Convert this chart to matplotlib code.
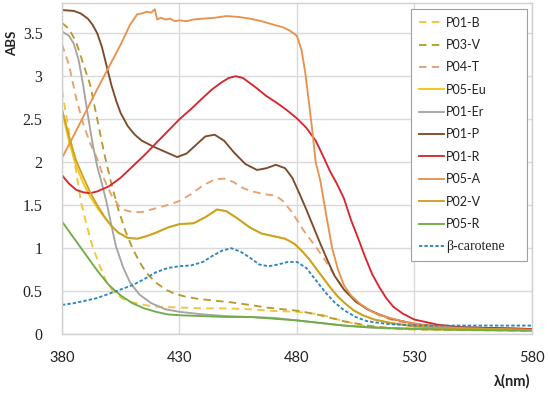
import numpy as np
import matplotlib
matplotlib.use('Agg')
import matplotlib.pyplot as plt
from matplotlib.ticker import FuncFormatter

# absorbance spectra
p01bX = [380, 383, 386, 388, 390, 393, 396, 399, 402, 406, 410, 415, 420, 430, 440, 450, 460, 470, 480, 490, 500, 510, 520, 535, 580]
p01bY = [2.84, 2.35, 1.90, 1.55, 1.32, 1.02, 0.80, 0.60, 0.49, 0.41, 0.37, 0.34, 0.32, 0.31, 0.30, 0.30, 0.29, 0.27, 0.26, 0.23, 0.15, 0.09, 0.06, 0.05, 0.04]

p03vX = [380, 383, 386, 389, 392, 395, 398, 401, 404, 407, 410, 413, 416, 420, 424, 428, 432, 438, 445, 452, 460, 467, 474, 481, 490, 500, 510, 520, 530, 545, 580]
p03vY = [3.62, 3.55, 3.40, 3.15, 2.90, 2.50, 2.10, 1.75, 1.45, 1.20, 1.00, 0.84, 0.71, 0.60, 0.52, 0.47, 0.44, 0.41, 0.39, 0.37, 0.34, 0.31, 0.29, 0.27, 0.22, 0.15, 0.10, 0.07, 0.06, 0.05, 0.04]

p04tX = [380, 383, 386, 389, 392, 395, 398, 401, 404, 407, 410, 414, 418, 422, 426, 430, 435, 440, 445, 449, 453, 457, 461, 466, 471, 474, 477, 480, 483, 486, 489, 492, 495, 498, 501, 505, 510, 515, 520, 530, 540, 555, 580]
p04tY = [3.37, 3.13, 2.75, 2.45, 2.22, 2.04, 1.80, 1.62, 1.50, 1.44, 1.42, 1.42, 1.45, 1.48, 1.51, 1.55, 1.63, 1.73, 1.80, 1.81, 1.77, 1.70, 1.66, 1.63, 1.61, 1.55, 1.45, 1.33, 1.20, 1.09, 0.98, 0.86, 0.73, 0.60, 0.49, 0.38, 0.29, 0.22, 0.17, 0.11, 0.08, 0.06, 0.05]

p05euX = [380, 383, 386, 389, 392, 395, 398, 401, 404, 408, 412, 416, 420, 425, 430, 436, 441, 446, 450, 455, 460, 465, 470, 475, 479, 482, 485, 488, 491, 494, 497, 500, 504, 508, 513, 520, 530, 545, 580]
p05euY = [2.60, 2.24, 1.96, 1.76, 1.60, 1.47, 1.36, 1.26, 1.18, 1.12, 1.11, 1.14, 1.18, 1.24, 1.28, 1.29, 1.36, 1.45, 1.43, 1.34, 1.24, 1.17, 1.14, 1.11, 1.05, 0.97, 0.88, 0.77, 0.66, 0.55, 0.45, 0.37, 0.28, 0.22, 0.17, 0.13, 0.09, 0.07, 0.05]

p01erX = [380, 383, 385, 387, 389, 391, 393, 395, 397, 399, 401, 403, 406, 409, 413, 418, 424, 430, 440, 450, 460, 470, 480, 490, 500, 510, 520, 540, 580]
p01erY = [3.52, 3.47, 3.38, 3.20, 2.90, 2.55, 2.22, 1.95, 1.75, 1.53, 1.27, 1.02, 0.78, 0.60, 0.46, 0.36, 0.29, 0.26, 0.23, 0.21, 0.20, 0.19, 0.16, 0.13, 0.10, 0.08, 0.07, 0.06, 0.05]

p01pX = [380, 385, 388, 391, 393, 395, 397, 399, 401, 403, 405, 408, 411, 414, 419, 424, 429, 433, 437, 441, 445, 449, 453, 458, 463, 467, 471, 475, 478, 481, 484, 487, 490, 493, 496, 500, 505, 510, 515, 520, 530, 540, 550, 565, 580]
p01pY = [3.77, 3.76, 3.73, 3.67, 3.60, 3.50, 3.34, 3.12, 2.90, 2.72, 2.57, 2.42, 2.32, 2.25, 2.18, 2.12, 2.06, 2.10, 2.20, 2.30, 2.32, 2.25, 2.12, 1.98, 1.91, 1.93, 1.97, 1.93, 1.82, 1.64, 1.45, 1.25, 1.05, 0.86, 0.68, 0.52, 0.38, 0.29, 0.23, 0.18, 0.12, 0.09, 0.08, 0.07, 0.06]

p01rX = [380, 383, 386, 389, 392, 395, 400, 405, 410, 415, 420, 425, 430, 435, 440, 444, 448, 451, 454, 457, 462, 467, 472, 476, 480, 484, 488, 491, 494, 497, 500, 503, 506, 509, 512, 515, 518, 521, 525, 530, 540, 550, 565, 580]
p01rY = [1.85, 1.75, 1.68, 1.65, 1.64, 1.66, 1.72, 1.82, 1.95, 2.08, 2.22, 2.36, 2.50, 2.62, 2.75, 2.85, 2.93, 2.98, 3.00, 2.98, 2.88, 2.77, 2.68, 2.60, 2.51, 2.40, 2.25, 2.08, 1.90, 1.75, 1.58, 1.33, 1.12, 0.90, 0.70, 0.55, 0.42, 0.32, 0.24, 0.17, 0.11, 0.08, 0.07, 0.06]

p05aX = [380, 385, 390, 395, 400, 405, 409, 412, 414, 416, 418, 419.5, 420.5, 422, 424, 426, 428, 430, 433, 436, 440, 445, 450, 455, 460, 465, 470, 474, 477, 480, 482, 483.5, 485, 486.5, 488, 490, 492.5, 495, 497.5, 500, 503, 507, 512, 518, 525, 535, 550, 580]
p05aY = [2.05, 2.31, 2.58, 2.85, 3.11, 3.37, 3.60, 3.72, 3.73, 3.75, 3.74, 3.78, 3.66, 3.68, 3.66, 3.67, 3.64, 3.65, 3.64, 3.66, 3.67, 3.68, 3.70, 3.69, 3.67, 3.64, 3.60, 3.57, 3.53, 3.47, 3.30, 3.05, 2.72, 2.38, 2.00, 1.78, 1.38, 1.00, 0.75, 0.57, 0.45, 0.35, 0.26, 0.20, 0.15, 0.10, 0.07, 0.05]

p02vX = p05euX
p02vY = [2.62, 2.30, 2.02, 1.83, 1.65, 1.50, 1.37, 1.26, 1.18, 1.12, 1.11, 1.14, 1.18, 1.24, 1.28, 1.29, 1.36, 1.45, 1.43, 1.34, 1.24, 1.17, 1.14, 1.11, 1.05, 0.97, 0.88, 0.77, 0.66, 0.55, 0.45, 0.37, 0.28, 0.22, 0.17, 0.13, 0.09, 0.07, 0.05]

p05rX = [380, 385, 390, 395, 400, 405, 410, 415, 420, 425, 430, 440, 450, 460, 470, 480, 490, 500, 510, 520, 530, 550, 580]
p05rY = [1.31, 1.12, 0.93, 0.74, 0.57, 0.45, 0.36, 0.30, 0.26, 0.23, 0.22, 0.21, 0.20, 0.20, 0.18, 0.16, 0.13, 0.10, 0.08, 0.07, 0.06, 0.05, 0.04]

betaX = [380, 385, 390, 395, 400, 405, 410, 415, 420, 425, 430, 435, 440, 444, 448, 452, 456, 460, 464, 468, 472, 476, 480, 484, 488, 492, 496, 500, 505, 510, 518, 530, 550, 580]
betaY = [0.34, 0.36, 0.39, 0.42, 0.47, 0.52, 0.57, 0.64, 0.72, 0.77, 0.79, 0.80, 0.84, 0.91, 0.97, 1.00, 0.96, 0.89, 0.81, 0.79, 0.81, 0.84, 0.84, 0.77, 0.63, 0.49, 0.37, 0.28, 0.20, 0.15, 0.12, 0.10, 0.10, 0.10]

xTicks = [380, 430, 480, 530, 580]
yTicks = [0, 0.5, 1, 1.5, 2, 2.5, 3, 3.5]


def drawSpectra():
    fig = plt.figure(figsize=(5.5, 3.95), dpi=100)
    ax = fig.add_axes([0.1127, 0.154, 0.8543, 0.838])

    dash = (0, (4, 2.8))
    # (label, x, y, color, linestyle)
    series = [
        ('P01-B', p01bX, p01bY, '#F2C53D', dash),
        ('P03-V', p03vX, p03vY, '#B89A2E', dash),
        ('P04-T', p04tX, p04tY, '#E8A06E', dash),
        ('P05-Eu', p05euX, p05euY, '#F5C518', '-'),
        ('P01-Er', p01erX, p01erY, '#A5A5A5', '-'),
        ('P01-P', p01pX, p01pY, '#7E4B29', '-'),
        ('P01-R', p01rX, p01rY, '#D9262E', '-'),
        ('P05-A', p05aX, p05aY, '#E8924F', '-'),
        ('P02-V', p02vX, p02vY, '#C9A227', '-'),
        ('P05-R', p05rX, p05rY, '#70AD47', '-'),
        ('\u03b2-carotene', betaX, betaY, '#2E86C1', (0, (1.8, 1.1))),
    ]
    for (label, xs, ys, color, ls) in series:
        ax.plot(xs, ys, color=color, linestyle=ls, linewidth=1.35, label=label)

    ax.set_xlim(380, 580)
    ax.set_ylim(0, 3.85)
    ax.set_xticks(xTicks)
    ax.set_yticks(yTicks)
    ax.yaxis.set_major_formatter(FuncFormatter(lambda v, p: '%g' % v))
    ax.tick_params(length=0)
    ax.tick_params(axis='x', pad=12)
    ax.tick_params(axis='y', pad=14)
    for t in ax.get_xticklabels():
        t.set_fontfamily('Lato')
        t.set_fontsize(10.5)
        t.set_color('#222222')
    for t in ax.get_yticklabels():
        t.set_fontfamily('Liberation Serif')
        t.set_fontsize(11.5)
        t.set_color('#222222')

    ax.grid(True, color='#D9D9D9', linewidth=1)
    ax.set_axisbelow(True)
    for s in ax.spines.values():
        s.set_color('#D0D0D0')
        s.set_linewidth(1)

    # legend box stretched to the width it has in the reference
    leg = ax.legend(loc='upper left', bbox_to_anchor=(0.743, 0.233, 0.247, 0.749), mode='expand',
                    fancybox=False, framealpha=1, edgecolor='#A0A0A0',
                    prop={'family': 'Lato', 'size': 9},
                    labelspacing=0.83, handlelength=2.0, handletextpad=0.2, borderpad=0.6,
                    borderaxespad=0)
    leg.get_frame().set_linewidth(0.8)
    for t in leg.get_texts():
        t.set_color('#222222')
    leg.get_texts()[-1].set_fontfamily('Liberation Serif')
    leg.get_texts()[-1].set_fontsize(10)

    fig.text(0.022, 0.89, 'ABS', rotation=90, ha='center', va='center',
             fontfamily='Lato', fontweight='bold', fontsize=9.5, color='#222222')
    fig.text(0.965, 0.035, '\u03bb(nm)', ha='right', va='center',
             fontfamily='Lato', fontweight='bold', fontsize=10.5, color='#222222')

    fig.savefig('out.png', dpi=100)


def main():
    drawSpectra()


if __name__ == '__main__':
    main()
